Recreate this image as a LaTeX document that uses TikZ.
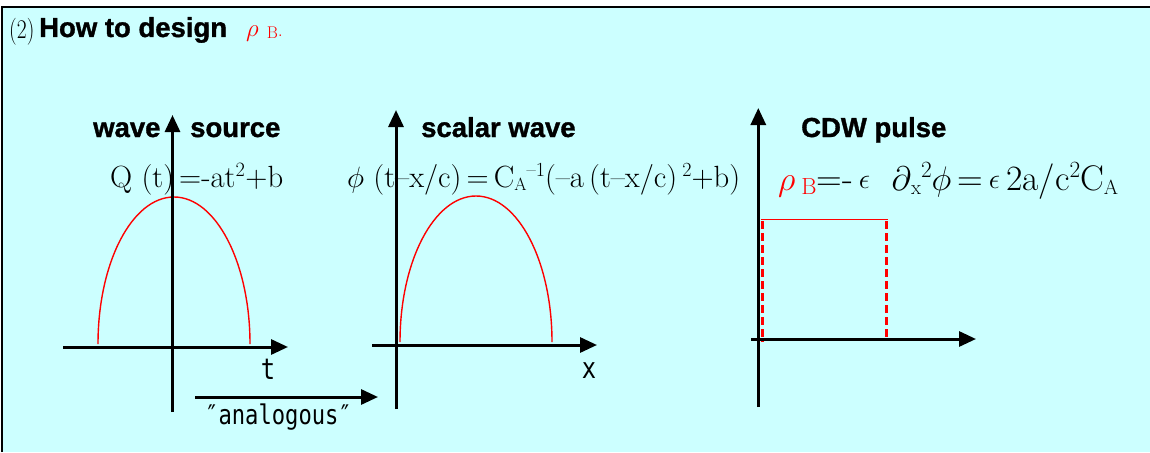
\documentclass[tikz,border=0pt]{standalone}
\usepackage{fontspec}
\setsansfont{Liberation Sans}
\newfontfamily\monof{DejaVu Sans Mono}
\newfontfamily\headfont[FakeBold=1.2]{Liberation Sans Bold}
\usetikzlibrary{arrows.meta}
\definecolor{bgc}{RGB}{204,255,255}
\newcommand{\fs}[1]{\fontsize{#1}{#1}\selectfont}
\newcommand{\lowr}[2]{\raisebox{-3pt}{\fs{#1}#2}}
\newcommand{\highr}[2]{\raisebox{9pt}{\fs{#1}#2}}
\newcommand{\narrow}[1]{\scalebox{0.82}[1]{#1}}
\begin{document}
\begin{tikzpicture}[x=1pt,y=-1pt,
  axis/.style={line width=3pt,-{Triangle[length=17pt,width=15pt]}},
  curve/.style={red,line width=1.4pt},
  heading/.style={anchor=base west,inner sep=0,font=\headfont\fs{27.5}},
  formula/.style={anchor=base west,inner sep=0,font=\fs{26}},
  lab/.style={inner sep=0,font=\monof\fs{29}}]
\useasboundingbox (0,0) rectangle (1150,452);
\fill[white] (0,0) rectangle (1150,452);
\fill[bgc] (2,7) rectangle (1150,452);
\draw[line width=2pt] (2,452) -- (2,7) -- (1150,7);

% title
\node[anchor=base west,inner sep=0,font=\fs{27}] (t2) at (9,38) {\scalebox{0.8}[1]{(2)}};
\node[heading] (tt) at (39,37) {How to design};
\node[anchor=base west,inner sep=0,text=red,font=\fs{24}] (tr) at (246,37) {$\rho$\,\,\raisebox{-2pt}{\fs{17}B}{\fs{20}.}};

% headings
\node[heading] (h1a) at (93,137) {wave};
\node[heading] (h1b) at (190,137) {source};
\node[heading] (h2) at (421,137) {scalar wave};
\node[heading] (h3) at (801,137) {CDW pulse};

% formulas
\node[formula] (f1) at (110,187) {\resizebox{173pt}{!}{Q (t)\,=-at$^2$+b}};
\node[formula] (f2) at (347,187) {\resizebox{393pt}{!}{$\phi$ (t--x/c)\,=\,C\lowr{15}{A}\highr{17}{--1}(--a\,(t--x/c)\,\highr{17}{2}+b)}};
\node[formula] (f3) at (778,190) {\resizebox{340pt}{!}{{\color{red}$\rho$\,\lowr{17}{B}}=-\,\raisebox{1pt}{\fs{20}$\epsilon$}\ \ $\partial$\lowr{15}{x}\highr{17}{2}$\phi$\,=\,\raisebox{1pt}{\fs{20}$\epsilon$}\,2a/c\highr{17}{2}C\lowr{15}{A}}};

% curves
\draw[curve] (98,344) arc[start angle=180,end angle=360,x radius=76,y radius=147];
\draw[curve] (400,342) arc[start angle=180,end angle=360,x radius=76,y radius=146];
\draw[red,line width=1.5pt] (760.5,219.5) -- (888,219.5);
\draw[red,line width=3.3pt,dash pattern=on 8pt off 4pt] (762.3,221) -- (762.3,342);
\draw[red,line width=3.3pt,dash pattern=on 8pt off 4pt] (886.7,221) -- (886.7,337);

% axes
\coordinate (v1b) at (172.5,412); \coordinate (v1t) at (172.5,115);
\coordinate (h1l) at (63,347); \coordinate (h1r) at (288,347);
\coordinate (v2b) at (396,409); \coordinate (v2t) at (396,110);
\coordinate (h2l) at (372,345); \coordinate (h2r) at (597,345);
\coordinate (v3b) at (758.3,407); \coordinate (v3t) at (758.3,108);
\coordinate (h3l) at (751,339); \coordinate (h3r) at (976,339);
\draw[axis] (v1b) -- (v1t);
\draw[axis] (h1l) -- (h1r);
\draw[axis] (v2b) -- (v2t);
\draw[axis] (h2l) -- (h2r);
\draw[axis] (v3b) -- (v3t);
\draw[axis] (h3l) -- (h3r);

\node[lab] (lt) at (268,369) {\narrow{t}};
\node[lab] (lx) at (589,371) {\narrow{x}};

% analogous
\coordinate (an1) at (195,397); \coordinate (an2) at (378,397);
\draw[axis] (an1) -- (an2);
\node[anchor=base west,inner sep=0,font=\monof\fs{27}] (an) at (205,424) {\narrow{″analogous″}};
\end{tikzpicture}
\end{document}
